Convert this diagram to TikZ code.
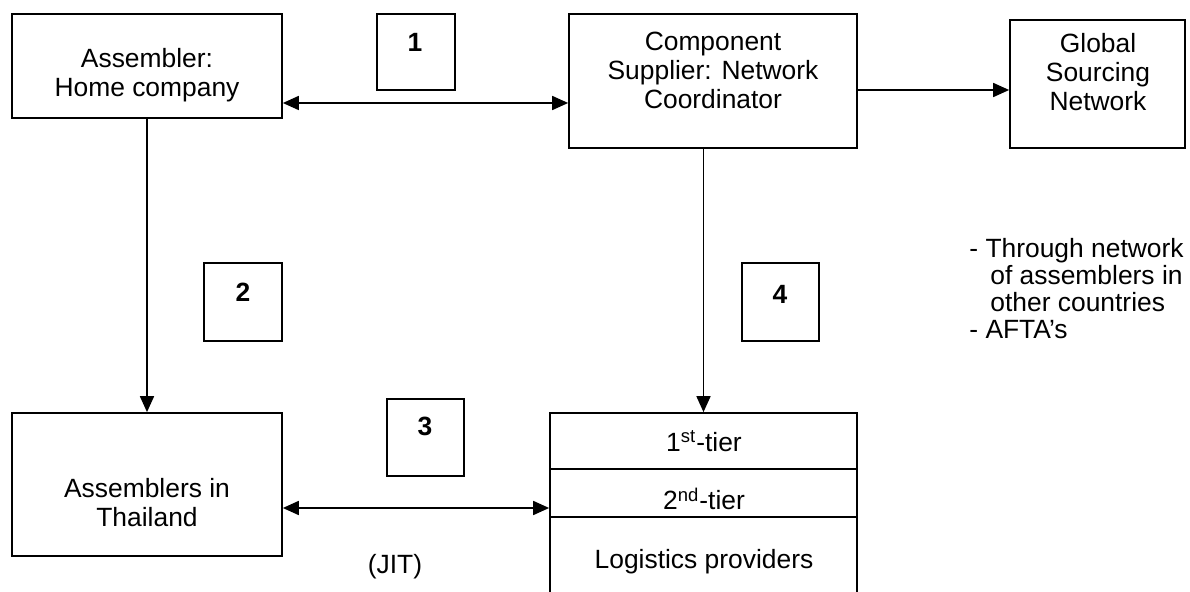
\documentclass[tikz,border=0pt]{standalone}
\usepackage{fontspec}
\setmainfont{Liberation Sans}
\usetikzlibrary{arrows.meta}
\begin{document}
\begin{tikzpicture}[x=0.5pt,y=-0.5pt,
  every node/.style={font=\fontsize{13.2}{14.5}\selectfont},
  box/.style={draw=black,line width=0.85pt,inner sep=0pt,fill=none},
  txt/.style={inner sep=0pt,align=center},
  num/.style={inner sep=0pt,font=\fontsize{13.2}{14.5}\selectfont\bfseries},
  conn/.style={line width=0.85pt,-{Triangle[length=8pt,width=7pt]}},
  biconn/.style={line width=0.85pt,{Triangle[length=8pt,width=7pt]}-{Triangle[length=8pt,width=7pt]}}
]
\useasboundingbox[fill=white] (0,0) rectangle (1190,592);
% boxes
\node[box,minimum width=135pt,minimum height=52pt] (asm) at (147,66) {};
\node[box,minimum width=39pt,minimum height=38pt] (b1) at (416,52) {};
\node[box,minimum width=144pt,minimum height=67pt] (comp) at (713,81) {};
\node[box,minimum width=87.5pt,minimum height=64pt] (glob) at (1097.5,84) {};
\node[box,minimum width=39pt,minimum height=39pt] (b2) at (243,302) {};
\node[box,minimum width=38.5pt,minimum height=39pt] (b4) at (780.5,302) {};
\node[box,minimum width=135pt,minimum height=71.5pt] (thai) at (147,484.5) {};
\node[box,minimum width=38.5pt,minimum height=38.5pt] (b3) at (425.5,437.5) {};
\node[box,minimum width=153.5pt,minimum height=90pt] (tier) at (703.5,503) {};
\draw[line width=0.85pt] ([yshift=-28.5pt]tier.north west) -- ([yshift=-28.5pt]tier.north east);
\draw[line width=0.85pt] ([yshift=-52.5pt]tier.north west) -- ([yshift=-52.5pt]tier.north east);
% texts
\node[txt] (tasm) at (147,75) {Assembler:\\Home company};
\node[txt] (tcomp) at (713,70) {Component\\Supplier: Network\\Coordinator};
\node[txt] (tglob) at (1098,72) {Global\\Sourcing\\Network};
\node[txt] (tthai) at (147,503) {Assemblers in\\Thailand};
\node[num] (n1) at (415,42) {1};
\node[num] (n2) at (243,292) {2};
\node[num] (n3) at (425,426) {3};
\node[num] (n4) at (780,294) {4};
\node[txt] (t1) at (704,441) {1\textsuperscript{st}-tier};
\node[txt] (t2) at (704,499) {2\textsuperscript{nd}-tier};
\node[txt] (t3) at (704,562) {Logistics providers};
\node[txt] (jit) at (395,567) {(JIT)};
\node[inner sep=0pt,align=left,anchor=north west,font=\fontsize{13.2}{13.5}\selectfont] (notes) at (969,238)
  {- Through network\\\hspace*{10.5pt}of assemblers in\\\hspace*{10.5pt}other countries\\- AFTA’s};
% connectors
\draw[biconn] ([yshift=-18.5pt]asm.east) -- ([yshift=-18.5pt]asm.east -| comp.west);
\draw[conn] ([yshift=-4.5pt]comp.east) -- ([yshift=-4.5pt]comp.east -| glob.west);
\draw[conn] (asm.south) -- (thai.north);
\draw[conn] (comp.south -| tier.north) -- (tier.north);
\draw[biconn] ([yshift=-11.75pt]thai.east) -- ([yshift=-11.75pt]thai.east -| tier.west);
\end{tikzpicture}
\end{document}
